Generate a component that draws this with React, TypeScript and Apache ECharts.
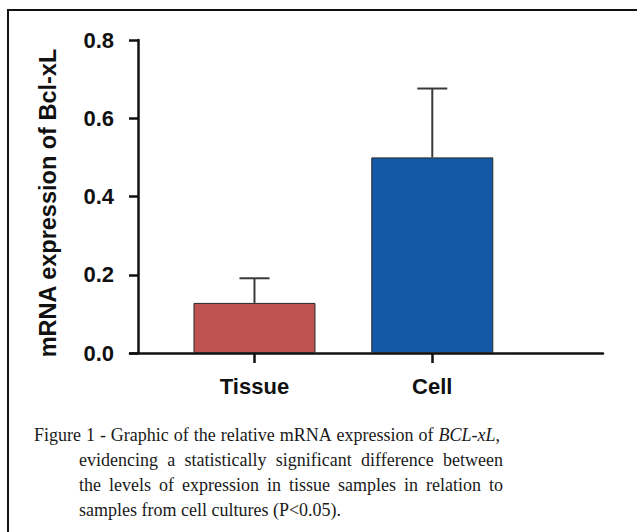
import React, { useEffect, useRef } from "react";
import * as echarts from "echarts";

const categories = ["Tissue", "Cell"];
const categoryPositions = [1, 2];
const meanValues = [0.128, 0.5];
const errorValues = [0.063, 0.176];
const barColors = ["#BD5250", "#1359A6"];
const yTicks = { min: 0, max: 0.8, interval: 0.2 };
const yAxisName = "mRNA expression of Bcl-xL";
const captionFirst = ["Figure 1 - Graphic of the relative mRNA expression of", "BCL-xL", ","];
const captionLines = [
  "evidencing a statistically significant difference between",
  "the levels of expression in tissue samples in relation to",
  "samples from cell cultures (P<0.05).",
];

export default function App() {
  const ref = useRef<HTMLDivElement>(null);
  useEffect(() => {
    if (!ref.current) return;
    const chart = echarts.init(ref.current, undefined, { renderer: "svg" });
    const sans = "'Liberation Sans', Arial, sans-serif";
    const serif = "'Liberation Serif', 'Times New Roman', serif";
    const canvas = document.createElement("canvas");
    const ctx = canvas.getContext("2d") as CanvasRenderingContext2D;
    ctx.font = "18px " + serif;
    const spaceW = ctx.measureText(" ").width;
    const gapFor = (natural: number, gaps: number, width: number) =>
      spaceW + Math.max(0, (width - natural) / gaps);
    const justified = (line: string, justify: boolean, width: number) => {
      const words = line.split(" ");
      if (!justify || words.length < 2) return { text: line, rich: {} };
      const gap = gapFor(ctx.measureText(line).width, words.length - 1, width);
      return {
        text: words.join("{s| }"),
        rich: { s: { width: gap, fontFamily: serif, fontSize: 18 } },
      };
    };
    // first line (with italic gene name), justified
    const firstWords = captionFirst[0].split(" ");
    ctx.font = "18px " + serif;
    let firstNatural = ctx.measureText(captionFirst[0] + " ").width + ctx.measureText(captionFirst[2]).width;
    ctx.font = "italic 18px " + serif;
    firstNatural += ctx.measureText(captionFirst[1]).width;
    ctx.font = "18px " + serif;
    const firstGap = gapFor(firstNatural, firstWords.length, 466);
    const firstText =
      firstWords.join("{s| }") + "{s| }{i|" + captionFirst[1] + "}" + captionFirst[2];

    const axisLine = { show: true, lineStyle: { color: "#111", width: 2.5 } };
    const capStyle = { fontFamily: serif, fontSize: 18, fill: "#1a1a1a" };
    const option: any = {
      animation: false,
      backgroundColor: "#fff",
      grid: { left: 130, right: 34, top: 40, bottom: 179, containLabel: false },
      xAxis: {
        type: "value",
        min: 0.3,
        max: 2.96,
        splitLine: { show: false },
        axisLine,
        axisTick: { show: true, length: 10, lineStyle: { color: "#111", width: 2.5 }, customValues: categoryPositions },
        axisLabel: {
          customValues: categoryPositions,
          formatter: (v: number) => categories[categoryPositions.indexOf(v)] ?? "",
          fontFamily: sans,
          fontWeight: "bold",
          fontSize: 22,
          color: "#111",
          margin: 22,
        },
      },
      yAxis: {
        type: "value",
        min: yTicks.min,
        max: yTicks.max,
        interval: yTicks.interval,
        offset: -8,
        splitLine: { show: false },
        axisLine,
        axisTick: { show: true, length: 9, lineStyle: { color: "#111", width: 2.5 } },
        axisLabel: {
          formatter: (v: number) => v.toFixed(1),
          fontFamily: sans,
          fontWeight: "bold",
          fontSize: 22,
          color: "#111",
          margin: 24,
        },
        name: yAxisName,
        nameLocation: "middle",
        nameGap: 78,
        nameTextStyle: { fontFamily: sans, fontWeight: "bold", fontSize: 23.5, color: "#111", padding: [0, 13, 0, 0] },
      },
      series: [
        {
          type: "bar",
          barWidth: 122,
          data: categoryPositions.map((p, i) => ({
            value: [p, meanValues[i]],
            itemStyle: { color: barColors[i], borderColor: "#2a2a2a", borderWidth: 1 },
          })),
        },
        {
          type: "custom",
          data: categoryPositions.map((p, i) => [p, meanValues[i], meanValues[i] + errorValues[i]]),
          renderItem: (params: any, api: any) => {
            const base = api.coord([api.value(0), api.value(1)]);
            const top = api.coord([api.value(0), api.value(2)]);
            const style = { stroke: "#3a3a3a", lineWidth: 2 };
            return {
              type: "group",
              children: [
                { type: "line", shape: { x1: base[0], y1: base[1], x2: top[0], y2: top[1] }, style },
                { type: "line", shape: { x1: top[0] - 15, y1: top[1], x2: top[0] + 15, y2: top[1] }, style },
              ],
            };
          },
          z: 3,
        },
      ],
      graphic: [
        {
          type: "rect",
          shape: { x: 8, y: 10, width: 700, height: 600 },
          style: { fill: "none", stroke: "#111", lineWidth: 2 },
          silent: true,
        },
        {
          type: "text",
          x: 34,
          y: 426,
          style: {
            ...capStyle,
            text: firstText,
            textVerticalAlign: "alphabetic",
            rich: {
              i: { fontFamily: serif, fontSize: 18, fontStyle: "italic", fill: "#1a1a1a" },
              s: { width: firstGap, fontFamily: serif, fontSize: 18 },
            },
          },
        },
        ...captionLines.map((t, k) => {
          const j = justified(t, k < captionLines.length - 1, 424);
          return {
            type: "text",
            x: 79,
            y: 451 + k * 25,
            style: { ...capStyle, text: j.text, rich: j.rich, textVerticalAlign: "alphabetic" },
          };
        }),
      ],
    };
    chart.setOption(option);
    return () => chart.dispose();
  }, []);
  return <div ref={ref} style={{ position: "fixed", left: 0, top: 0, width: 637, height: 532 }} />;
}
